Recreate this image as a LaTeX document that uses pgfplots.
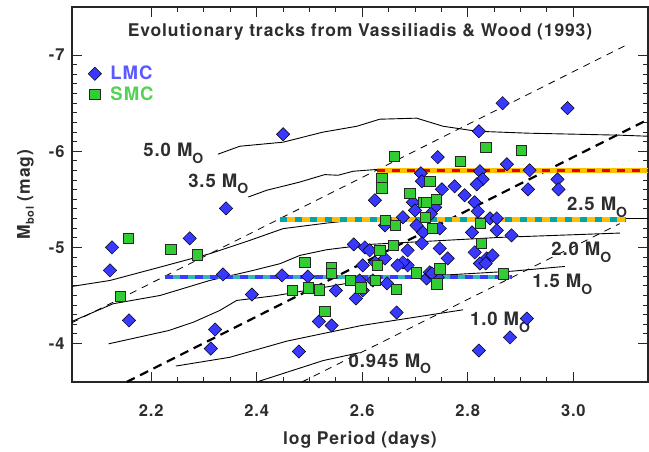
\documentclass[border=0pt]{standalone}
\usepackage{fontspec}
\setmainfont{TeX Gyre Heros}[LetterSpace=5]
\usepackage{pgfplots}
\pgfplotsset{compat=1.18}
\definecolor{lmcblue}{RGB}{56,56,255}
\definecolor{smcgreen}{RGB}{50,205,50}
\definecolor{lmctext}{RGB}{90,90,255}
\definecolor{smctext}{RGB}{85,210,85}
\definecolor{txt}{RGB}{45,45,45}
\definecolor{gold}{RGB}{255,190,0}
\definecolor{tealc}{RGB}{0,165,165}
\definecolor{redd}{RGB}{230,0,0}
\definecolor{blueb}{RGB}{60,60,255}
\newcommand{\Mo}{M\raisebox{-6.7pt}{\fontsize{14}{14}\selectfont O}}
\begin{document}
\begin{tikzpicture}
\begin{axis}[
  scale only axis, width=576pt, height=375pt,
  xmin=2.05, xmax=3.1415, ymin=-7.5, ymax=-3.6, y dir=reverse,
  axis line style={line width=1.2pt, black!85},
  xtick={2.2,2.4,2.6,2.8,3.0}, xticklabels={2.2,2.4,2.6,2.8,3.0},
  ytick={-7,-6,-5,-4}, yticklabels={-7,-6,-5,-4},
  minor x tick num=3, minor y tick num=9,
  tick align=inside, major tick length=10pt, minor tick length=5pt,
  every tick/.style={black!85, line width=0.9pt},
  tick label style={font=\fontsize{16.5}{18}\selectfont\bfseries, text=txt},
  xticklabel style={anchor=base, yshift=-34pt},
  yticklabel style={anchor=east, xshift=-4pt},
  legend style={draw=none, fill=none, at={(axis description cs:0,1)}, anchor=north west,
    xshift=16pt, yshift=-57pt, font=\fontsize{18.5}{21}\selectfont\bfseries,
    row sep=1pt, inner xsep=0pt, inner ysep=0pt,
    /tikz/every odd column/.append style={column sep=7pt}},
  legend cell align=left,
  legend image code/.code={\draw[#1] plot coordinates {(0pt,0pt)};},
]
\addplot[only marks, mark=square*, mark size=4.7pt,
  mark options={rotate=45, fill=lmcblue, draw=black, line width=0.5pt}] coordinates {
(2.122,-4.760) (2.126,-5.000) (2.158,-4.240) (2.273,-5.094) (2.342,-5.406)
(2.450,-6.177) (2.336,-4.719) (2.448,-4.708) (2.497,-4.698) (2.391,-4.510)
(2.321,-4.146) (2.313,-3.948) (2.480,-3.917) (2.518,-4.229) (2.542,-4.188)
(2.550,-4.552) (2.588,-4.469) (2.601,-4.813) (2.584,-5.031) (2.605,-5.000)
(2.595,-4.656) (2.866,-6.500) (2.989,-6.448) (2.821,-6.208) (2.743,-5.938)
(2.874,-5.865) (2.917,-5.802) (2.711,-5.771) (2.823,-5.792) (2.828,-5.708)
(2.817,-5.656) (2.713,-5.688) (2.775,-5.635) (2.751,-5.604) (2.970,-5.708)
(2.972,-5.604) (2.914,-5.604) (2.624,-5.490) (2.696,-5.469) (2.794,-5.542)
(2.813,-5.469) (2.819,-5.375) (2.700,-5.385) (2.738,-5.417) (2.730,-5.350)
(2.842,-5.302) (2.855,-5.302) (2.677,-5.313) (2.703,-5.229) (2.747,-5.198)
(2.715,-5.156) (2.808,-5.156) (2.643,-5.229) (2.855,-5.177) (2.883,-5.125)
(2.836,-4.885) (2.847,-4.917) (2.813,-4.948) (2.823,-4.833) (2.912,-4.260)
(2.880,-4.063) (2.821,-3.927) (2.665,-4.323) (2.762,-4.885) (2.747,-4.990)
(2.713,-5.042) (2.624,-4.844) (2.686,-4.813) (2.677,-4.844) (2.722,-4.677)
(2.743,-4.688) (2.620,-4.656) (2.601,-4.552) (2.686,-4.969) (2.614,-4.969)
(2.643,-4.885) (2.667,-4.813) (2.728,-4.740) (2.647,-4.625) (2.732,-4.729)
(2.834,-4.833)
};
\addlegendentry{\textcolor{lmctext}{LMC}}
\addplot[only marks, mark=square*, mark size=5.1pt,
  mark options={fill=smcgreen, draw=black!85, line width=0.5pt}] coordinates {
(2.157,-5.097) (2.237,-4.979) (2.287,-4.924) (2.141,-4.493) (2.491,-4.844)
(2.468,-4.552) (2.498,-4.580) (2.518,-4.560) (2.542,-4.792) (2.542,-4.729)
(2.529,-4.333) (2.577,-4.656) (2.597,-4.580) (2.660,-5.948) (2.834,-6.042)
(2.902,-6.010) (2.785,-5.896) (2.637,-5.719) (2.637,-5.620) (2.728,-5.688)
(2.690,-5.563) (2.715,-5.469) (2.722,-5.469) (2.740,-5.497) (2.643,-5.281)
(2.662,-5.229) (2.720,-5.313) (2.733,-5.195) (2.823,-5.247) (2.633,-4.969)
(2.658,-5.021) (2.628,-4.813) (2.703,-4.736) (2.747,-4.778) (2.741,-4.622)
(2.664,-4.563) (2.624,-4.656) (2.826,-5.039) (2.867,-4.726)
};
\addlegendentry{\textcolor{smctext}{SMC}}
% evolutionary tracks
\addplot[forget plot, black, line width=0.9pt] coordinates {
(2.3265,-5.969) (2.368,-6.052) (2.450,-6.094) (2.525,-6.198) (2.590,-6.260) (2.633,-6.333)
(2.703,-6.344) (2.753,-6.260) (2.817,-6.208) (2.912,-6.188) (3.088,-6.167) (3.1415,-6.156)};
\addplot[forget plot, black, line width=0.9pt] coordinates {
(2.384,-5.524) (2.419,-5.594) (2.482,-5.680) (2.529,-5.757) (2.554,-5.750) (2.583,-5.792)
(2.624,-5.809) (2.75,-5.81) (3.1415,-5.80)};
\addplot[forget plot, black, line width=0.9pt] coordinates {
(2.05,-4.594) (2.122,-4.656) (2.217,-4.795) (2.311,-4.934) (2.387,-5.073) (2.450,-5.195)
(2.533,-5.253) (2.614,-5.299) (3.1415,-5.300)};
\addplot[forget plot, black, line width=0.9pt] coordinates {
(2.05,-4.23) (2.128,-4.414) (2.217,-4.500) (2.311,-4.656) (2.393,-4.760) (2.444,-4.830)
(2.482,-4.917) (2.533,-4.976) (2.614,-5.031) (2.861,-5.104) (3.088,-5.149)};
\addplot[forget plot, black, line width=0.9pt] coordinates {
(2.1195,-3.997) (2.233,-4.135) (2.280,-4.222) (2.330,-4.344) (2.362,-4.448) (2.438,-4.500)
(2.513,-4.570) (2.614,-4.667) (2.885,-4.753) (2.984,-4.802)};
\addplot[forget plot, black, line width=0.9pt] coordinates {
(2.247,-3.766) (2.349,-3.857) (2.457,-4.025) (2.599,-4.188) (2.791,-4.351)};
\addplot[forget plot, black, line width=0.9pt] coordinates {
(2.400,-3.600) (2.526,-3.823) (2.595,-3.905)};
% dashed lines
\addplot[forget plot, black, line width=0.8pt, dash pattern=on 7pt off 6pt] coordinates {
(2.05,-4.216) (3.107,-7.122)};
\addplot[forget plot, black, line width=0.8pt, dash pattern=on 7pt off 6pt] coordinates {
(2.4856,-3.6) (3.088,-5.247)};
\addplot[forget plot, black, line width=2.2pt, dash pattern=on 9pt off 6pt] coordinates {
(2.1536,-3.6) (3.1415,-6.33)};
% coloured horizontal bands
\addplot[forget plot, gold, line width=5pt] coordinates {(2.628,-5.80) (3.1415,-5.80)};
\addplot[forget plot, redd, line width=3.2pt, dash pattern=on 8pt off 7pt] coordinates {(2.628,-5.80) (3.1415,-5.80)};
\addplot[forget plot, gold, line width=4.5pt] coordinates {(2.445,-5.292) (3.10,-5.292)};
\addplot[forget plot, tealc, line width=4.5pt, dash pattern=on 7pt off 8pt] coordinates {(2.445,-5.292) (3.10,-5.292)};
\addplot[forget plot, tealc!80!white, line width=4.5pt] coordinates {(2.226,-4.693) (2.883,-4.693)};
\addplot[forget plot, blueb, line width=4.5pt, dash pattern=on 8pt off 7pt] coordinates {(2.226,-4.693) (2.883,-4.693)};
% labels
\begin{scope}[every node/.style={inner sep=0pt, anchor=base west, text=txt, font=\fontsize{18.5}{20}\selectfont\bfseries}]
\node at (axis cs:2.185,-5.941) {5.0 \Mo};
\node at (axis cs:2.270,-5.628) {3.5 \Mo};
\node at (axis cs:2.988,-5.385) {2.5 \Mo};
\node at (axis cs:2.958,-4.917) {2.0 \Mo};
\node at (axis cs:2.922,-4.580) {1.5 \Mo};
\node at (axis cs:2.804,-4.188) {1.0 \Mo};
\node at (axis cs:2.574,-3.753) {0.945 \Mo};
\end{scope}
\coordinate (bl) at (axis description cs:0,0);
\coordinate (tr) at (axis description cs:1,1);
\coordinate (tl) at (axis description cs:0.5,1);
\coordinate (xl) at (axis description cs:0.5,0);
\coordinate (yl) at (axis description cs:0,0.5);
\end{axis}
\node[anchor=base, inner sep=0pt, text=txt, font=\fontsize{17.5}{20}\selectfont\bfseries] at ([yshift=-29.7pt]tl) {Evolutionary tracks from Vassiliadis \& Wood (1993)};
\node[anchor=base, inner sep=0pt, text=txt, font=\fontsize{17.5}{20}\selectfont\bfseries] at ([yshift=-63pt]xl) {log Period (days)};
\node[anchor=base, rotate=90, inner sep=0pt, text=txt, font=\fontsize{17.5}{20}\selectfont\bfseries] at ([xshift=-42pt]yl) {M\raisebox{-4pt}{\fontsize{11}{11}\selectfont bol} (mag)};
\pgfresetboundingbox
\path[use as bounding box] ([shift={(-72pt,-70pt)}]bl) rectangle ([shift={(1pt,7pt)}]tr);
\end{tikzpicture}
\end{document}
